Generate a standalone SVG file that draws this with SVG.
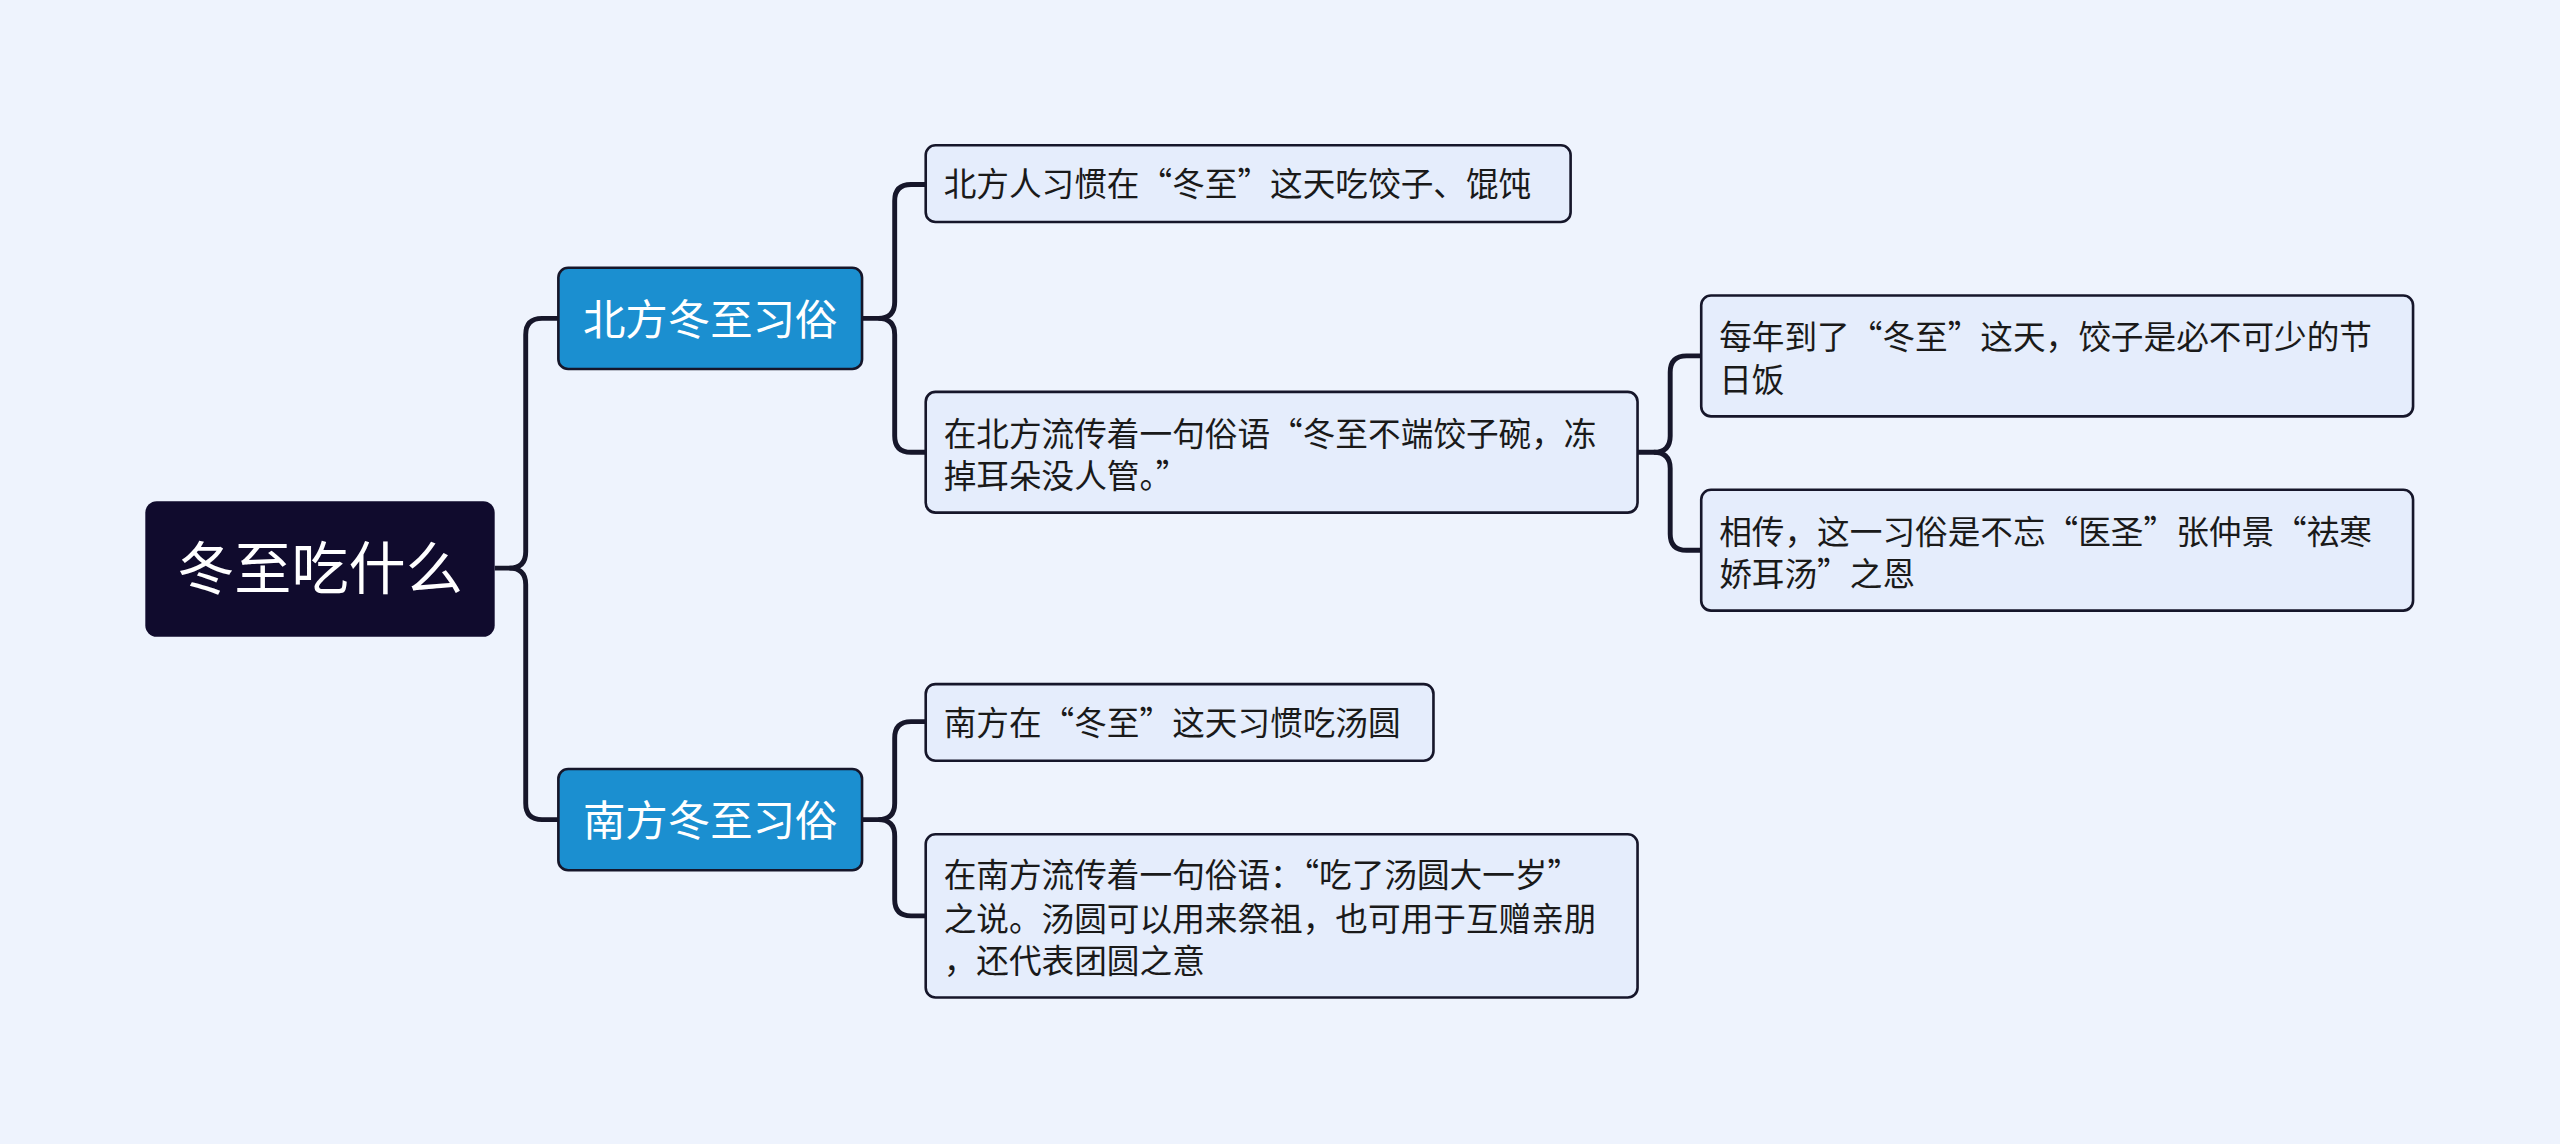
<svg xmlns="http://www.w3.org/2000/svg" width="2560" height="1144" viewBox="0 0 2560 1144">
<style>
.leaf{fill:#e5edfc;stroke:#16162a;stroke-width:1.6}
.br{fill:#1b8fd0;stroke:#16162a;stroke-width:1.6}
.t{font-family:"Noto Sans CJK SC",sans-serif;font-size:20px;fill:#1a1a1a}
.tb{font-family:"Noto Sans CJK SC",sans-serif;font-size:26px;fill:#fff}
.c{fill:none;stroke:#16162a;stroke-width:3}
</style>
<rect width="2560" height="1144" fill="#eef3fd"/>
<g transform="scale(1.63265)">
<g id="connectors">
<path class="c" d="M303,348 H312 Q322,348 322,338 V205 Q322,195 332,195 H342"/>
<path class="c" d="M312,348 Q322,348 322,358 V492 Q322,502 332,502 H342"/>
<path class="c" d="M528,195 H538 Q548,195 548,185 V123 Q548,113 558,113 H567"/>
<path class="c" d="M538,195 Q548,195 548,205 V267 Q548,277 558,277 H567"/>
<path class="c" d="M1003,277 H1013 Q1023,277 1023,267 V228 Q1023,218 1033,218 H1042"/>
<path class="c" d="M1013,277 Q1023,277 1023,287 V327 Q1023,337 1033,337 H1042"/>
<path class="c" d="M528,502 H538 Q548,502 548,492 V452 Q548,442 558,442 H567"/>
<path class="c" d="M538,502 Q548,502 548,512 V551 Q548,561 558,561 H567"/>
</g>
<g id="root"><rect x="89" y="307" width="214" height="83" rx="7" fill="#100b2d"/><text x="196" y="361" text-anchor="middle" font-family="Noto Sans CJK SC,sans-serif" font-size="35" fill="#fff">冬至吃什么</text></g>
<g id="b1"><rect class="br" x="342" y="164" width="186" height="62" rx="6"/><text class="tb" x="435" y="205" text-anchor="middle">北方冬至习俗</text></g>
<g id="b2"><rect class="br" x="342" y="471" width="186" height="62" rx="6"/><text class="tb" x="435" y="512" text-anchor="middle">南方冬至习俗</text></g>
<g id="l1"><rect class="leaf" x="567" y="89" width="395" height="47" rx="6"/><text class="t" x="578" y="120">北方人习惯在“冬至”这天吃饺子、馄饨</text></g>
<g id="l2"><rect class="leaf" x="567" y="240" width="436" height="74" rx="6"/><text class="t" x="578" y="273">在北方流传着一句俗语“冬至不端饺子碗，冻</text><text class="t" x="578" y="299">掉耳朵没人管。”</text></g>
<g id="l2a"><rect class="leaf" x="1042" y="181" width="436" height="74" rx="6"/><text class="t" x="1053" y="214">每年到了“冬至”这天，饺子是必不可少的节</text><text class="t" x="1053" y="240">日饭</text></g>
<g id="l2b"><rect class="leaf" x="1042" y="300" width="436" height="74" rx="6"/><text class="t" x="1053" y="333">相传，这一习俗是不忘“医圣”张仲景“祛寒</text><text class="t" x="1053" y="359">娇耳汤”之恩</text></g>
<g id="l3"><rect class="leaf" x="567" y="419" width="311" height="47" rx="6"/><text class="t" x="578" y="450">南方在“冬至”这天习惯吃汤圆</text></g>
<g id="l4"><rect class="leaf" x="567" y="511" width="436" height="100" rx="6"/><text class="t" x="578" y="543">在南方流传着一句俗语：“吃了汤圆大一岁”</text><text class="t" x="578" y="570">之说。汤圆可以用来祭祖，也可用于互赠亲朋</text><text class="t" x="578" y="596">，还代表团圆之意</text></g>
</g>
</svg>
